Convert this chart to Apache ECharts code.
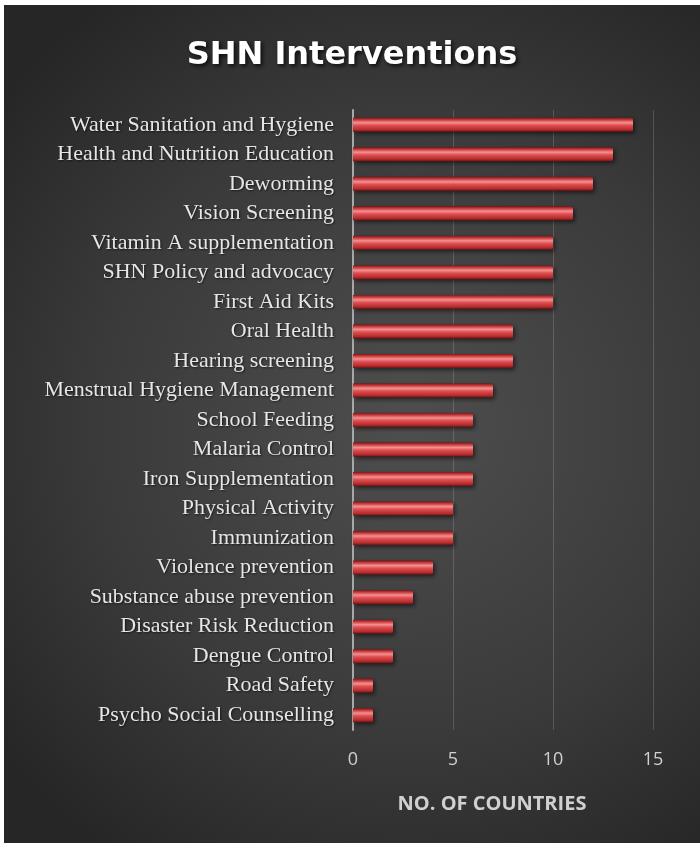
<!DOCTYPE html>
<html>
<head>
<meta charset="utf-8">
<title>SHN Interventions</title>
<script src="https://cdn.jsdelivr.net/npm/echarts@6/dist/echarts.min.js"></script>
<style>
  html, body { margin: 0; padding: 0; background: #ffffff; }
  #chart { position: absolute; left: 4px; top: 5px; width: 696px; height: 838px; }
</style>
</head>
<body>
<div id="chart"></div>
<script>
// Interventions, listed from most to fewest countries
const interventions = [
  'Water Sanitation and Hygiene',
  'Health and Nutrition Education',
  'Deworming',
  'Vision Screening',
  'Vitamin A supplementation',
  'SHN Policy and advocacy',
  'First Aid Kits',
  'Oral Health',
  'Hearing screening',
  'Menstrual Hygiene Management',
  'School Feeding',
  'Malaria Control',
  'Iron Supplementation',
  'Physical Activity',
  'Immunization',
  'Violence prevention',
  'Substance abuse prevention',
  'Disaster Risk Reduction',
  'Dengue Control',
  'Road Safety',
  'Psycho Social Counselling'
];
const countryCounts = [14, 13, 12, 11, 10, 10, 10, 8, 8, 7, 6, 6, 6, 5, 5, 4, 3, 2, 2, 1, 1];
const xTicks = { min: 0, max: 15, interval: 5 };

const chart = echarts.init(document.getElementById('chart'));

// glossy cylinder shading across the thickness of each bar
const barFill = new echarts.graphic.LinearGradient(0, 0, 0, 1, [
  { offset: 0, color: '#7e1616' },
  { offset: 0.15, color: '#c63b3d' },
  { offset: 0.35, color: '#f59090' },
  { offset: 0.55, color: '#de4e50' },
  { offset: 0.85, color: '#b52c2e' },
  { offset: 1, color: '#701111' }
]);

chart.setOption({
  backgroundColor: new echarts.graphic.RadialGradient(0.58, 0.5, 0.75, [
    { offset: 0, color: '#4e4e4e' },
    { offset: 0.6, color: '#3a3a3a' },
    { offset: 1, color: '#262626' }
  ]),
  title: {
    text: 'SHN Interventions',
    left: 'center',
    top: 30,
    textStyle: {
      color: '#ffffff',
      fontFamily: 'DejaVu Sans',
      fontWeight: 'bold',
      fontSize: 32,
      textShadowColor: 'rgba(0,0,0,0.8)',
      textShadowBlur: 4,
      textShadowOffsetX: 2,
      textShadowOffsetY: 2
    }
  },
  grid: { left: 349, right: 47, top: 105, bottom: 113 },
  xAxis: {
    type: 'value',
    min: xTicks.min,
    max: xTicks.max,
    interval: xTicks.interval,
    name: 'NO. OF COUNTRIES',
    nameLocation: 'middle',
    nameGap: 64,
    nameTextStyle: {
      color: '#d0d0d0',
      fontFamily: 'Open Sans',
      fontWeight: 'bold',
      fontSize: 20,
      padding: [0, 22, 0, 0]
    },
    axisLine: { show: false },
    axisTick: { show: false },
    axisLabel: {
      color: '#d0d0d0',
      fontFamily: 'Open Sans',
      fontSize: 18,
      margin: 21
    },
    splitLine: { lineStyle: { color: 'rgba(255,255,255,0.16)', width: 1 } }
  },
  yAxis: {
    type: 'category',
    data: interventions,
    inverse: true,
    axisLine: { show: true, lineStyle: { color: '#a8a8a8', width: 2 } },
    axisTick: { show: false },
    axisLabel: {
      color: '#e6e6e6',
      fontFamily: 'Liberation Serif',
      fontSize: 22,
      margin: 19,
      textShadowColor: 'rgba(0,0,0,0.6)',
      textShadowBlur: 2,
      textShadowOffsetX: 1,
      textShadowOffsetY: 1
    }
  },
  series: [{
    type: 'bar',
    data: countryCounts,
    barWidth: 14,
    itemStyle: {
      color: barFill,
      borderRadius: [0, 2, 2, 0],
      shadowColor: 'rgba(0,0,0,0.55)',
      shadowBlur: 4,
      shadowOffsetX: 2,
      shadowOffsetY: 2
    },
    emphasis: { disabled: true },
    animation: false
  }]
});
</script>
</body>
</html>
